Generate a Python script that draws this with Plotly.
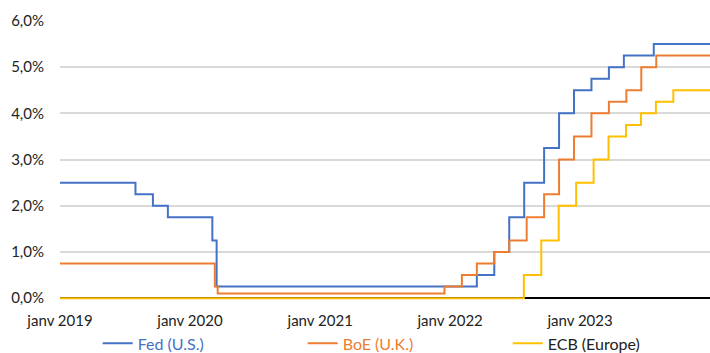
import plotly.graph_objects as go

# Policy rate decisions (date of change, new rate in %)
fed_dates = ["2019-01-01", "2019-08-01", "2019-09-19", "2019-10-31", "2020-03-04",
             "2020-03-16", "2022-03-17", "2022-05-05", "2022-06-16", "2022-07-28",
             "2022-09-22", "2022-11-03", "2022-12-15", "2023-02-02", "2023-03-23",
             "2023-05-04", "2023-07-27", "2024-01-01"]
fed_rates = [2.5, 2.25, 2.0, 1.75, 1.25, 0.25, 0.5, 1.0, 1.75, 2.5,
             3.25, 4.0, 4.5, 4.75, 5.0, 5.25, 5.5, 5.5]

boe_dates = ["2019-01-01", "2020-03-11", "2020-03-19", "2021-12-16", "2022-02-03",
             "2022-03-17", "2022-05-05", "2022-06-16", "2022-08-04", "2022-09-22",
             "2022-11-03", "2022-12-15", "2023-02-02", "2023-03-23", "2023-05-11",
             "2023-06-22", "2023-08-03", "2024-01-01"]
boe_rates = [0.75, 0.25, 0.1, 0.25, 0.5, 0.75, 1.0, 1.25, 1.75, 2.25,
             3.0, 3.5, 4.0, 4.25, 4.5, 5.0, 5.25, 5.25]

ecb_dates = ["2019-01-01", "2022-07-27", "2022-09-14", "2022-11-02", "2022-12-21",
             "2023-02-08", "2023-03-22", "2023-05-10", "2023-06-21", "2023-08-02",
             "2023-09-20", "2024-01-01"]
ecb_rates = [0.0, 0.5, 1.25, 2.0, 2.5, 3.0, 3.5, 3.75, 4.0, 4.25, 4.5, 4.5]

series_names = ["Fed (U.S.)", "BoE (U.K.)", "ECB (Europe)"]
series_colors = ["#4472C4", "#ED7D31", "#FFC000"]
legend_text_colors = ["#4472C4", "#ED7D31", "#222222"]

x_tick_vals = ["2019-01-01", "2020-01-01", "2021-01-01", "2022-01-01", "2023-01-01"]
x_tick_text = ["janv 2019", "janv 2020", "janv 2021", "janv 2022", "janv 2023"]
y_tick_vals = [0, 1, 2, 3, 4, 5, 6]
y_tick_text = ["0,0%", "1,0%", "2,0%", "3,0%", "4,0%", "5,0%", "6,0%"]

fig = go.Figure()
for name, dates, rates, color, text_color in zip(series_names,
                                                 [fed_dates, boe_dates, ecb_dates],
                                                 [fed_rates, boe_rates, ecb_rates],
                                                 series_colors, legend_text_colors):
    fig.add_trace(go.Scatter(
        x=dates, y=rates, mode="lines",
        name=f"<span style='color:{text_color}'>{name}</span>",
        line=dict(color=color, width=2, shape="hv")))

font_family = "Lato, Open Sans, sans-serif"

fig.update_layout(
    width=710, height=353,
    margin=dict(l=60, r=0, t=20, b=53, autoexpand=False),
    plot_bgcolor="white", paper_bgcolor="white",
    font=dict(family=font_family, size=15, color="#222222"),
    showlegend=True,
    legend=dict(orientation="h", x=0.058, xanchor="left",
                y=-0.155, yanchor="middle",
                entrywidth=160, entrywidthmode="pixels",
                font=dict(size=16, family=font_family),
                itemwidth=30, tracegroupgap=0,
                bgcolor="rgba(0,0,0,0)"),
    xaxis=dict(range=["2019-01-01", "2024-01-01"], tickvals=x_tick_vals,
               ticktext=x_tick_text, showgrid=False, zeroline=False,
               showline=False, ticks="outside", ticklen=7,
               tickcolor="rgba(0,0,0,0)", tickfont=dict(size=15)),
    yaxis=dict(range=[-0.04, 6.02], tickvals=y_tick_vals, ticktext=y_tick_text,
               showgrid=True, gridcolor="#D9D9D9", gridwidth=1.5,
               zeroline=True, zerolinecolor="black", zerolinewidth=2,
               ticks="outside", ticklen=12, tickcolor="rgba(0,0,0,0)",
               tickfont=dict(size=15)),
)

fig.write_html("out.html")
